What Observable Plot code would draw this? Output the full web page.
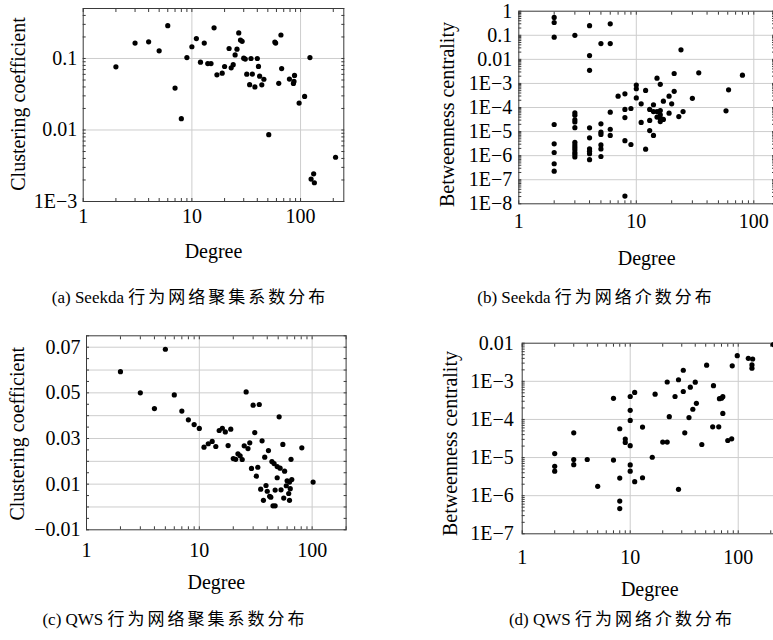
<!DOCTYPE html>
<html><head><meta charset="utf-8">
<script src="https://cdn.jsdelivr.net/npm/d3@7"></script>
<script src="https://cdn.jsdelivr.net/npm/@observablehq/plot@0.6"></script>
<style>
html,body{margin:0;padding:0;background:#fff;}
#page{position:relative;width:773px;height:640px;overflow:hidden;background:#fff;font-family:"Liberation Serif","Times New Roman",serif;}
.panel{position:absolute;overflow:visible;}
.panel svg{max-width:none !important;height:auto;display:block;}
.cap{position:absolute;font-size:17px;line-height:20px;white-space:nowrap;color:#000;font-family:"Liberation Serif","Times New Roman",serif;transform:translateX(-50%);}
.cap .cjk{font-family:"Noto Sans CJK SC",sans-serif;letter-spacing:3px;font-size:17px;}
</style></head><body><div id="page"></div>
<script>
// ---------- data ----------
const xTickValues = [1, 10, 100];
const xTickLabels = ["1", "10", "100"];

// (a) Seekda clustering coefficient
const aDegree = [2,3,4,5,6,7,8,9,10,11,12,13,14,15,16,17,19,20,22,23,24,25,26,27,28,29,30,31,32,34,35,36,38,40,41,42,44,46,51,58,59,63,66,67,79,86,87,88,97,109,122,125,132,134,210];
const aClustering = [0.0765,0.164,0.171,0.128,0.288,0.0386,0.0144,0.103,0.146,0.190,0.0889,0.164,0.085,0.085,0.268,0.0591,0.0624,0.0773,0.138,0.0740,0.0820,0.112,0.135,0.228,0.181,0.174,0.101,0.098,0.0604,0.043,0.100,0.0605,0.0400,0.100,0.0775,0.0565,0.0428,0.0512,0.0086,0.170,0.164,0.0450,0.213,0.0722,0.0515,0.0448,0.0478,0.058,0.0238,0.0295,0.103,0.00206,0.00244,0.00183,0.00416];
const aYTicks = [0.001, 0.01, 0.1];
const aYLabels = ["1E\u22123", "0.01", "0.1"];

// (b) Seekda betweenness centrality
const bDegree = [2,2,2,2,2,2,2,2, 3,3,3,3,3,3,3,3,3,3,3,3,3, 4,4,4,4,4,4,4,4,4, 5,5,5,5,5,5,5, 6,6,6,6,6, 7, 8,8,8,8,8, 9,9, 10,10,10, 11,11, 12,12, 13,13,13, 14,14,14, 15,15,15, 16,16,16,16,16, 17,17, 19,19, 20, 21,21, 23, 24, 25, 30, 34, 58, 61, 80];
const bBetweenness = [0.55,0.34,0.083,1.97e-5,3.1e-6,1.35e-6,4.6e-7,2.27e-7,
  0.1,6.0e-5,4.8e-5,3.1e-5,2.5e-5,1.45e-5,3.6e-6,2.8e-6,2.2e-6,1.74e-6,1.35e-6,1.1e-6,8.8e-7,
  0.25,0.0144,3.5e-3,1.43e-5,5.5e-6,1.93e-6,1.53e-6,1.2e-6,6.8e-7,
  0.0454,2.1e-5,9.4e-6,7.6e-6,2.8e-6,1.9e-6,9.2e-7,
  0.3,0.0454,6.4e-5,1.25e-5,6.9e-6,
  2.96e-4,
  3.7e-4,8.3e-5,3.8e-5,4.2e-6,2.1e-8,
  9.1e-5,2.9e-6,
  8.5e-4,6.0e-4,2.5e-4,
  1.42e-4,2.4e-5,
  5.1e-4,1.86e-6,
  8.3e-5,2.9e-5,1.1e-5,
  1.3e-4,6.8e-5,6.9e-6,
  1.65e-3,6.8e-5,4.0e-5,
  9.2e-4,7.5e-5,5.0e-5,3.6e-5,2.6e-5,
  1.83e-4,3.2e-5,
  2.95e-4,5.8e-5,
  1.42e-4,
  2.58e-3,4.7e-4,
  4.2e-5, 0.0248, 6.8e-5, 2.4e-4, 2.75e-3, 7.3e-5, 5.4e-4, 2.2e-3];
const bYTicks = [1e-8, 1e-7, 1e-6, 1e-5, 1e-4, 1e-3, 0.01, 0.1, 1];
const bYLabels = ["1E\u22128","1E\u22127","1E\u22126","1E\u22125","1E\u22124","1E\u22123","0.01","0.1","1"];

// (c) QWS clustering coefficient
const cDegree = [2,3,4,5,6,7,8,9,10,11,12,13,14,15,16,17,18,19,20,21,22,23,24,25,26,27,28,29,30,31,32,33,34,35,36,37,38,39,40,41,42,43,44,45,46,47,47,49,49,51,52,53,55,56,57,59,60,62,63,63,64,65,66,81,102];
const cClustering = [0.0593,0.050,0.0431,0.0691,0.0491,0.042,0.0382,0.0361,0.0344,0.0262,0.0277,0.0287,0.0265,0.0335,0.0345,0.0329,0.0269,0.0341,0.0212,0.0209,0.0233,0.0224,0.0208,0.0268,0.0504,0.0256,0.0281,0.0169,0.0446,0.0326,0.0135,0.0174,0.0449,0.0078,0.029,0.0029,0.0218,0.0094,0.0069,0.0247,0.0047,0.0043,0.0199,0.0005,0.019,0.0074,0.0005,0.0177,0.0128,0.0395,0.017,0.0075,0.0274,0.0039,0.0157,0.0093,0.0115,0.0059,0.0029,0.0109,0.008,0.0209,0.012,0.0259,0.0109];
const cYTicks = [-0.01, 0.01, 0.03, 0.05, 0.07];
const cYLabels = ["\u22120.01", "0.01", "0.03", "0.05", "0.07"];

// (d) QWS betweenness centrality
const dDegree = [2,2,2,3,3,3,4,5,7,7,8,8,8,8,9,9,10,10,10,10,10,10,11,11,13,13,16,17,20,22,22,23,26,28,28,31,31,32,35,36,38,40,41,46,51,58,59,66,67,70,72,72,80,87,88,98,124,136,134,134,211];
const dBetweenness = [1.27e-5,5.9e-6,4.4e-6,4.45e-5,8.9e-6,6.5e-6,8.9e-6,1.76e-6,3.57e-4,8.6e-6,5.7e-5,2.9e-6,7.2e-7,4.6e-7,3.05e-5,2.5e-5,4.0e-4,1.73e-4,9.4e-5,2.05e-5,6.4e-6,4.4e-6,5.1e-4,2.33e-6,6.3e-5,2.95e-6,1.02e-5,4.6e-4,2.55e-5,2.55e-5,9.6e-4,1.18e-4,4.0e-4,1.1e-3,1.47e-6,1.95e-3,5.4e-4,4.45e-5,1.12e-4,7.0e-4,1.85e-4,9.5e-4,2.65e-4,2.2e-5,2.65e-3,6.4e-5,7.7e-4,6.4e-5,3.5e-4,3.6e-4,3.95e-4,1.44e-4,2.8e-5,3.1e-5,2.55e-3,4.7e-3,4.0e-3,3.85e-3,2.7e-3,2.2e-3,9.2e-3];
const dYTicks = [1e-7, 1e-6, 1e-5, 1e-4, 1e-3, 0.01];
const dYLabels = ["1E\u22127","1E\u22126","1E\u22125","1E\u22124","1E\u22123","0.01"];

const xTitle = "Degree";
const ccTitle = "Clustering coefficient";
const bcTitle = "Betweenness centrality";
const captions = [
  ["(a) Seekda ", "行为网络聚集系数分布"],
  ["(b) Seekda ", "行为网络介数分布"],
  ["(c) QWS ", "行为网络聚集系数分布"],
  ["(d) QWS ", "行为网络介数分布"]
];

// ---------- helpers ----------
function logMinor(lo, hi) {
  const t = [];
  for (let e = Math.floor(Math.log10(lo)); e <= Math.ceil(Math.log10(hi)); e++)
    for (let m = 1; m < 10; m++) { const v = m * Math.pow(10, e); if (v >= lo * 0.999 && v <= hi * 1.001) t.push(v); }
  return t;
}

const FRAME = "#3a3a3a", GRID = "#cdcdcd";

function makePanel(o) {
  const xl = new Map(o.xTicks.map((v, i) => [v, o.xLabels[i]]));
  const yl = new Map(o.yTicks.map((v, i) => [v, o.yLabels[i]]));
  const data = o.xs.map((x, i) => ({x, y: o.ys[i]}));
  const svg = Plot.plot({
    width: o.width, height: o.height,
    marginLeft: o.ml, marginRight: o.mr, marginTop: o.mt, marginBottom: o.mb,
    style: {fontFamily: '"Liberation Serif","Times New Roman",serif', fontSize: "20px", background: "transparent", color: "#000", overflow: "visible", maxWidth: "none"},
    x: {type: "log", domain: o.xDomain, axis: null},
    y: {type: o.yType, domain: o.yDomain, axis: null},
    marks: [
      Plot.gridX(o.xGrid, {stroke: GRID, strokeOpacity: 1, strokeWidth: 1}),
      Plot.gridY(o.yGrid, {stroke: GRID, strokeOpacity: 1, strokeWidth: 1}),
      Plot.axisX(o.xMinor, {anchor: "bottom", tickSize: -3, fill: "none", stroke: FRAME}),
      Plot.axisX(o.xMinor, {anchor: "top", tickSize: -3, fill: "none", stroke: FRAME}),
      Plot.axisY(o.yMinor, {anchor: "left", tickSize: -3, fill: "none", stroke: FRAME}),
      Plot.axisY(o.yMinor, {anchor: "right", tickSize: -3, fill: "none", stroke: FRAME}),
      Plot.axisX(o.xTicks, {anchor: "bottom", tickSize: 0, tickPadding: o.xPad, tickFormat: d => xl.get(d), label: null}),
      Plot.axisY(o.yTicks, {anchor: "left", tickSize: 0, tickPadding: o.yPad, tickFormat: d => yl.get(d), label: null}),
      Plot.frame({stroke: FRAME, strokeWidth: 1}),
      Plot.dot(data, {x: "x", y: "y", r: 2.6, fill: "#000"}),
      Plot.text([o.xTitle], {frameAnchor: "bottom", lineAnchor: "bottom", textAnchor: "middle", dy: o.xOff, text: d => d}),
      Plot.text([o.yTitle], {frameAnchor: "left", lineAnchor: "top", textAnchor: "middle", rotate: -90, dx: -o.yOff, dy: o.yShift || 0, text: d => d})
    ]
  });
  svg.style.maxWidth = "none";
  const div = document.createElement("div");
  div.className = "panel";
  div.style.left = o.left + "px";
  div.style.top = o.top + "px";
  div.style.width = o.width + "px";
  div.style.height = o.height + "px";
  div.appendChild(svg);
  document.getElementById("page").appendChild(div);
}

// (a)
makePanel({left: 0, top: 0, width: 390, height: 280, ml: 82.7, mr: 46.7, mt: 8, mb: 79,
  xDomain: [1, 250], yType: "log", yDomain: [0.001, 0.5],
  xs: aDegree, ys: aClustering,
  xTicks: xTickValues, xLabels: xTickLabels, yTicks: aYTicks, yLabels: aYLabels,
  xGrid: [10, 100], yGrid: [0.01, 0.1],
  xMinor: logMinor(1, 250), yMinor: logMinor(0.001, 0.5),
  xPad: 7, yPad: 6, xTitle, yTitle: ccTitle, xOff: 56, yOff: 72, yShift: -1});

// (b)
makePanel({left: 390, top: 0, width: 420, height: 280, ml: 128.3, mr: 36, mt: 10.7, mb: 76.7,
  xDomain: [1, 150], yType: "log", yDomain: [1e-8, 1],
  xs: bDegree, ys: bBetweenness,
  xTicks: xTickValues, xLabels: xTickLabels, yTicks: bYTicks, yLabels: bYLabels,
  xGrid: [10, 100], yGrid: [1e-7, 1e-6, 1e-5, 1e-4, 1e-3, 0.01, 0.1],
  xMinor: logMinor(1, 150), yMinor: logMinor(1e-8, 1),
  xPad: 10, yPad: 6.6, xTitle, yTitle: bcTitle, xOff: 61, yOff: 78.6, yShift: 7});

// (c)
makePanel({left: 0, top: 320, width: 390, height: 300, ml: 86, mr: 44.4, mt: 15.3, mb: 90.7,
  xDomain: [1, 200], yType: "linear", yDomain: [-0.01, 0.075],
  xs: cDegree, ys: cClustering,
  xTicks: xTickValues, xLabels: xTickLabels, yTicks: cYTicks, yLabels: cYLabels,
  xGrid: [10, 100], yGrid: d3.range(0, 0.0701, 0.01),
  xMinor: logMinor(1, 200), yMinor: d3.range(-0.01, 0.0751, 0.005),
  xPad: 13, yPad: 6, xTitle, yTitle: ccTitle, xOff: 59.4, yOff: 77, yShift: 1});

// (d)
makePanel({left: 390, top: 320, width: 420, height: 300, ml: 131.7, mr: 33.2, mt: 22.7, mb: 86.7,
  xDomain: [1, 230], yType: "log", yDomain: [1e-7, 0.01],
  xs: dDegree, ys: dBetweenness,
  xTicks: xTickValues, xLabels: xTickLabels, yTicks: dYTicks, yLabels: dYLabels,
  xGrid: [10, 100], yGrid: [1e-6, 1e-5, 1e-4, 1e-3],
  xMinor: logMinor(1, 230), yMinor: logMinor(1e-7, 0.01),
  xPad: 16, yPad: 8.5, xTitle, yTitle: bcTitle, xOff: 62, yOff: 79.4, yShift: 5});

// captions (centre x, top y)
const capPos = [[190, 286], [596, 286], [175, 608], [622, 608]];
captions.forEach(([latin, cjk], i) => {
  const d = document.createElement("div");
  d.className = "cap";
  d.style.left = capPos[i][0] + "px";
  d.style.top = capPos[i][1] + "px";
  const s1 = document.createElement("span"); s1.textContent = latin;
  const s2 = document.createElement("span"); s2.className = "cjk"; s2.textContent = cjk;
  d.appendChild(s1); d.appendChild(s2);
  document.getElementById("page").appendChild(d);
});
</script>
</body></html>
